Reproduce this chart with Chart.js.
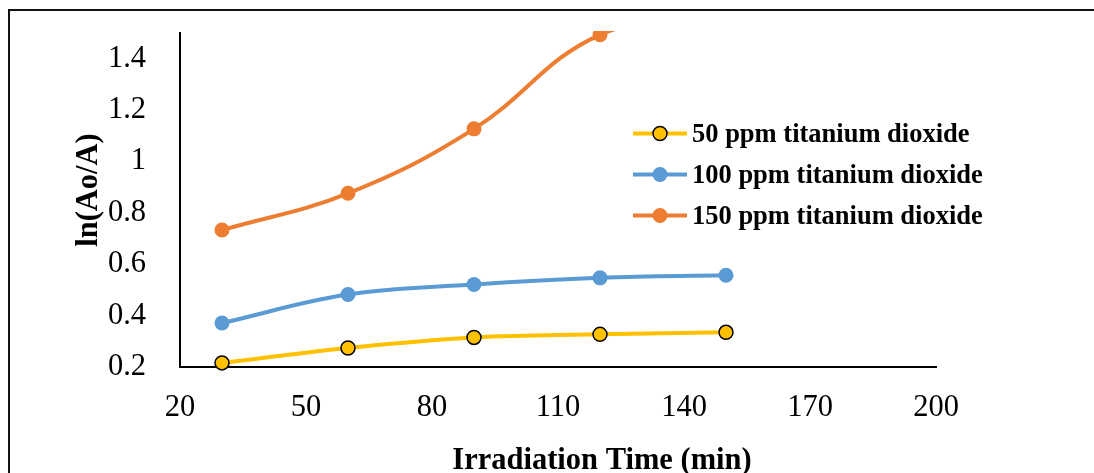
<!DOCTYPE html>
<html>
<head>
<meta charset="utf-8">
<script src="https://cdn.jsdelivr.net/npm/chart.js@4/dist/chart.umd.min.js"></script>
<style>
  html, body { margin: 0; padding: 0; background: #fff; overflow: hidden; }
  #frame { position: absolute; left: 8px; top: 9px; width: 2000px; height: 2000px;
           border-left: 2px solid #111; border-top: 2px solid #111; }
  #chart { position: absolute; left: 0; top: 0; }
</style>
</head>
<body>
<div id="frame"></div>
<canvas id="chart" width="1094" height="473"></canvas>
<script>
// Data
const timeMin = [30, 60, 90, 120, 150];
const ppm50 = [0.216, 0.274, 0.315, 0.327, 0.335];
const ppm100 = [0.371, 0.482, 0.521, 0.547, 0.557];
const ppm150 = [0.733, 0.876, 1.127, 1.493, 1.56];   // titik 150 keluar dari batas atas

const seriesLabels = ['50 ppm titanium dioxide', '100 ppm titanium dioxide', '150 ppm titanium dioxide'];
const xTitle = 'Irradiation Time (min)';
const yTitle = 'ln(Ao/A)';

const serif = "'Liberation Serif', 'Times New Roman', serif";
const colYellow = '#FFC000';
const colBlue = '#5B9BD5';
const colOrange = '#ED7D31';

const toPoints = ys => timeMin.map((x, i) => ({ x: x, y: ys[i] }));

// Legend & judul sumbu digambar manual supaya posisinya sama dengan Excel
const customDecor = {
    id: 'customDecor',
    afterDraw(chart) {
        const ctx = chart.ctx;
        ctx.save();

        // judul sumbu X
        ctx.fillStyle = '#000';
        ctx.font = 'bold 30.5px ' + serif;
        ctx.textAlign = 'center';
        ctx.textBaseline = 'alphabetic';
        ctx.fillText(xTitle, 602, 469);

        // judul sumbu Y (diputar)
        ctx.save();
        ctx.translate(97, 190);
        ctx.rotate(-Math.PI / 2);
        ctx.fillText(yTitle, 0, 0);
        ctx.restore();

        // legend
        chart.data.datasets.forEach((ds, i) => {
            const y = 133.5 + i * 41;
            ctx.strokeStyle = ds.borderColor;
            ctx.lineWidth = 4;
            ctx.beginPath();
            ctx.moveTo(633, y);
            ctx.lineTo(687, y);
            ctx.stroke();

            ctx.beginPath();
            ctx.arc(660, y, ds.pointRadius, 0, Math.PI * 2);
            ctx.fillStyle = ds.pointBackgroundColor;
            ctx.fill();
            if (ds.pointBorderWidth > 0) {
                ctx.lineWidth = ds.pointBorderWidth;
                ctx.strokeStyle = ds.pointBorderColor;
                ctx.stroke();
            }

            ctx.fillStyle = '#000';
            ctx.font = 'bold 26.5px ' + serif;
            ctx.textAlign = 'left';
            ctx.textBaseline = 'middle';
            ctx.fillText(ds.label, 692, y + 1.5);
        });
        ctx.restore();
    }
};

new Chart(document.getElementById('chart'), {
    type: 'line',
    data: {
        datasets: [
            {
                label: seriesLabels[0],
                data: toPoints(ppm50),
                borderColor: colYellow,
                borderWidth: 4,
                pointRadius: 7,
                pointBackgroundColor: colYellow,
                pointBorderColor: '#000',
                pointBorderWidth: 1.5,
                tension: 0.4,
                clip: false
            },
            {
                label: seriesLabels[1],
                data: toPoints(ppm100),
                borderColor: colBlue,
                borderWidth: 4,
                pointRadius: 7.5,
                pointBackgroundColor: colBlue,
                pointBorderColor: colBlue,
                pointBorderWidth: 0,
                tension: 0.4,
                clip: false
            },
            {
                label: seriesLabels[2],
                data: toPoints(ppm150),
                borderColor: colOrange,
                borderWidth: 4,
                pointRadius: 7.5,
                pointBackgroundColor: colOrange,
                pointBorderColor: colOrange,
                pointBorderWidth: 0,
                tension: 0.4,
                clip: { left: false, top: 2, right: false, bottom: false }
            }
        ]
    },
    options: {
        responsive: false,
        animation: false,
        events: [],
        layout: { padding: { left: 0, top: 33, right: 158, bottom: 0 } },
        plugins: {
            legend: { display: false },
            tooltip: { enabled: false }
        },
        scales: {
            x: {
                type: 'linear',
                min: 20,
                max: 200,
                grid: { display: false },
                border: { display: true, color: '#000', width: 2 },
                ticks: {
                    stepSize: 30,
                    padding: 15,
                    color: '#000',
                    font: { family: serif, size: 30.5 }
                },
                afterFit(scale) {
                    scale.height = 106;
                    scale.paddingLeft = 0;
                    scale.paddingRight = 0;
                }
            },
            y: {
                min: 0.2,
                max: 1.5,
                grid: { display: false },
                border: { display: true, color: '#000', width: 2 },
                ticks: {
                    stepSize: 0.2,
                    includeBounds: false,
                    padding: 26,
                    color: '#000',
                    font: { family: serif, size: 30.5 },
                    callback: v => String(Math.round(v * 10) / 10)
                },
                afterFit(scale) {
                    scale.width = 180;
                    scale.paddingTop = 0;
                    scale.paddingBottom = 0;
                }
            }
        }
    },
    plugins: [customDecor]
});
</script>
</body>
</html>
